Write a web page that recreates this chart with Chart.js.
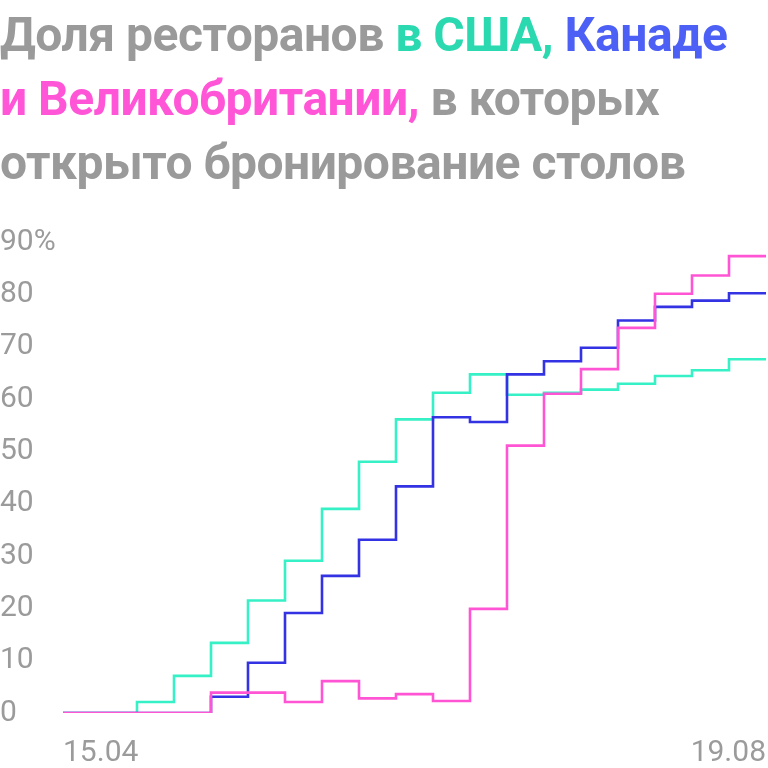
<!DOCTYPE html>
<html>
<head>
<meta charset="utf-8">
<script src="https://cdn.jsdelivr.net/npm/chart.js@4"></script>
<style>
  html, body { margin: 0; padding: 0; background: #fff; overflow: hidden; }
  #wrap { position: relative; width: 768px; height: 768px; }
  #title {
    position: absolute; left: 0; top: 3px; width: 768px;
    font-family: Roboto, sans-serif; font-weight: 700; font-size: 48px;
    line-height: 64px; color: #9a9a9a; letter-spacing: -0.5px;
  }
  .us { color: #2bd9b0; }
  .ca { color: #4d60f5; }
  .uk { color: #ff55d6; }
</style>
</head>
<body>
<div id="wrap">
  <canvas id="myChart" width="768" height="768"></canvas>
  <div id="title">Доля ресторанов <span class="us">в США,</span> <span class="ca">Канаде</span><br><span class="uk">и Великобритании,</span> в которых<br>открыто бронирование столов</div>
</div>
<script>
// weekly values, %
const usa = [0, 0, 2.1, 7.1, 13.4, 21.5, 29.1, 39.0, 48.0, 56.1, 61.2, 64.7, 60.8, 61.2, 61.8, 62.9, 64.4, 65.5, 67.6];
const canada = [0, 0, 0, 0, 3.1, 9.6, 19.1, 26.2, 33.1, 43.3, 56.5, 55.6, 64.7, 67.2, 69.8, 75.0, 77.6, 78.8, 80.2];
const uk = [0, 0, 0, 0, 3.9, 3.9, 2.1, 6.1, 2.8, 3.6, 2.3, 19.9, 51.1, 61.0, 65.7, 73.6, 80.1, 83.6, 87.3];
const xTickLabels = ['15.04', '19.08'];
const yTicks = [0, 10, 20, 30, 40, 50, 60, 70, 80, 90];

// each week holds its value until the next one; close the last week
function toSteps(arr) {
    let pts = arr.map((v, i) => ({x: i, y: v}));
    pts.push({x: arr.length, y: arr[arr.length - 1]});
    return pts;
}

const weeks = usa.length;

var ctx = document.getElementById('myChart').getContext('2d');
var myChart = new Chart(ctx, {
    type: 'line',
    data: {
        datasets: [{
            label: 'Великобритания',
            data: toSteps(uk),
            borderColor: '#ff55d4',
            borderWidth: 2.6,
            stepped: 'before',
            pointRadius: 0,
            fill: false
        }, {
            label: 'Канада',
            data: toSteps(canada),
            borderColor: '#3333e3',
            borderWidth: 2.6,
            stepped: 'before',
            pointRadius: 0,
            fill: false
        }, {
            label: 'США',
            data: toSteps(usa),
            borderColor: '#36f0c6',
            borderWidth: 2.6,
            stepped: 'before',
            pointRadius: 0,
            fill: false
        }]
    },
    options: {
        responsive: false,
        animation: false,
        layout: { padding: { top: 242, right: 2, left: 0, bottom: 0 } },
        plugins: { legend: { display: false }, tooltip: { enabled: false } },
        scales: {
            x: {
                type: 'linear',
                min: 0,
                max: weeks,
                grid: { display: false },
                border: { display: false },
                afterBuildTicks: (axis) => {
                    axis.ticks = [{value: 0}, {value: weeks}];
                },
                afterFit: (axis) => {
                    axis.height = 55;
                    axis.paddingLeft = 0;
                    axis.paddingRight = 0;
                },
                ticks: {
                    align: 'inner',
                    maxRotation: 0,
                    padding: 14,
                    color: '#9b9b9b',
                    font: { family: 'Roboto', size: 30 },
                    callback: (v) => v === 0 ? xTickLabels[0] : xTickLabels[1]
                }
            },
            y: {
                min: 0,
                max: 90,
                grid: { display: false },
                border: { display: false },
                afterBuildTicks: (axis) => {
                    axis.ticks = yTicks.map(v => ({value: v}));
                },
                afterFit: (axis) => { axis.width = 63; },
                ticks: {
                    crossAlign: 'far',
                    padding: 0,
                    color: '#9b9b9b',
                    font: { family: 'Roboto', size: 30 },
                    callback: (v) => v === 90 ? v + '%' : v
                }
            }
        }
    }
});
</script>
</body>
</html>
